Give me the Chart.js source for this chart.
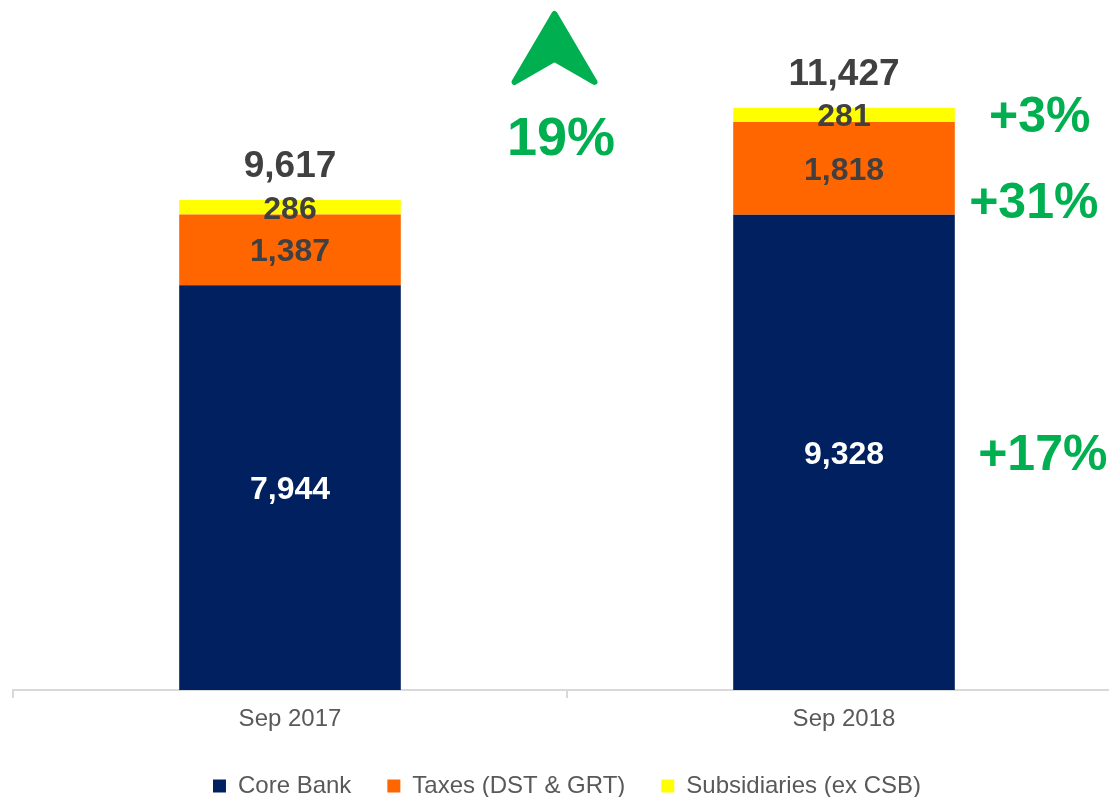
<!DOCTYPE html>
<html><head><meta charset="utf-8">
<script src="https://cdn.jsdelivr.net/npm/chart.js@4/dist/chart.umd.min.js"></script>
<style>
html,body{margin:0;padding:0;overflow:hidden;background:#fff;width:1109px;height:797px}
#wrap{position:relative;width:1121px;height:798px}
</style></head><body>
<div id="wrap"><canvas id="c"></canvas></div>
<script>
const categories = ['Sep 2017', 'Sep 2018'];
const coreBank = [7944, 9328];
const taxes = [1387, 1818];
const subsidiaries = [286, 281];
const totals = [9617, 11427];
const seriesNames = ['Core Bank', 'Taxes (DST & GRT)', 'Subsidiaries (ex CSB)'];
const growthBySeries = ['+17%', '+31%', '+3%'];
const totalGrowth = '19%';

const FONT = '"Liberation Sans", Arial, sans-serif';
const fmt = v => v.toLocaleString('en-US');

const labelsPlugin = {
  id: 'labels',
  afterDatasetsDraw(chart) {
    const ctx = chart.ctx;
    ctx.save();
    ctx.textAlign = 'center';
    ctx.textBaseline = 'alphabetic';
    chart.data.datasets.forEach((ds, di) => {
      const meta = chart.getDatasetMeta(di);
      meta.data.forEach((bar, i) => {
        const mid = (bar.y + bar.base) / 2;
        ctx.font = 'bold 32px ' + FONT;
        ctx.fillStyle = di === 0 ? '#ffffff' : '#404040';
        ctx.fillText(fmt(ds.data[i]), bar.x, mid + 11.5);
      });
    });
    // totals above stacks
    const topBars = chart.getDatasetMeta(chart.data.datasets.length - 1).data;
    ctx.font = 'bold 37px ' + FONT;
    ctx.fillStyle = '#404040';
    topBars.forEach((bar, i) => ctx.fillText(fmt(totals[i]), bar.x, bar.y - 22.5));

    // growth per series next to last bar
    const last = categories.length - 1;
    ctx.font = 'bold 50px ' + FONT;
    ctx.fillStyle = '#00b050';
    const dx = [88, 79, 85];
    growthBySeries.forEach((g, di) => {
      const bar = chart.getDatasetMeta(di).data[last];
      const x = bar.x + bar.width / 2 + dx[di];
      const mid = (bar.y + bar.base) / 2;
      const y = di === 1 ? bar.base + 3 : mid + 17.5;
      ctx.fillText(g, x, y);
    });

    // total growth + arrow between categories
    const b0 = chart.getDatasetMeta(0).data[0];
    const b1 = chart.getDatasetMeta(0).data[last];
    const midX = (b0.x + b1.x) / 2;
    const top = chart.chartArea.top;
    ctx.font = 'bold 54px ' + FONT;
    ctx.fillText(totalGrowth, midX - 6, top + 155);
    const cx = midX - 12.5;
    ctx.beginPath();
    ctx.moveTo(cx, top + 14);
    ctx.lineTo(cx + 40, top + 82);
    ctx.lineTo(cx, top + 59);
    ctx.lineTo(cx - 40, top + 82);
    ctx.closePath();
    ctx.fillStyle = '#00b050';
    ctx.strokeStyle = '#00b050';
    ctx.lineWidth = 6;
    ctx.lineJoin = 'round';
    ctx.fill();
    ctx.stroke();
    ctx.restore();
  }
};

new Chart(document.getElementById('c'), {
  type: 'bar',
  data: {
    labels: categories,
    datasets: [
      { label: seriesNames[0], data: coreBank, backgroundColor: '#002060' },
      { label: seriesNames[1], data: taxes, backgroundColor: '#ff6600' },
      { label: seriesNames[2], data: subsidiaries, backgroundColor: '#ffff00' }
    ].map(d => Object.assign(d, { barPercentage: 0.4, categoryPercentage: 1, borderWidth: 0 }))
  },
  options: {
    responsive: true,
    maintainAspectRatio: false,
    animation: false,
    layout: { padding: { left: 13, right: 0, top: 0, bottom: 0 } },
    plugins: {
      legend: {
        position: 'bottom',
        maxHeight: 60,
        labels: { boxWidth: 13, boxHeight: 13, padding: 36, color: '#595959', font: { family: FONT, size: 24 } }
      },
      tooltip: { enabled: false }
    },
    scales: {
      x: {
        stacked: true,
        afterFit: s => { s.height = 48; },
        grid: { display: true, drawOnChartArea: false, drawTicks: true, tickLength: 8, color: '#d9d9d9', lineWidth: 2, offset: true },
        border: { display: true, color: '#d9d9d9', width: 2 },
        ticks: { color: '#595959', font: { family: FONT, size: 24 }, padding: 7 }
      },
      y: { stacked: true, display: false, min: 0, max: 13540 }
    }
  },
  plugins: [labelsPlugin]
});
</script>
</body></html>
